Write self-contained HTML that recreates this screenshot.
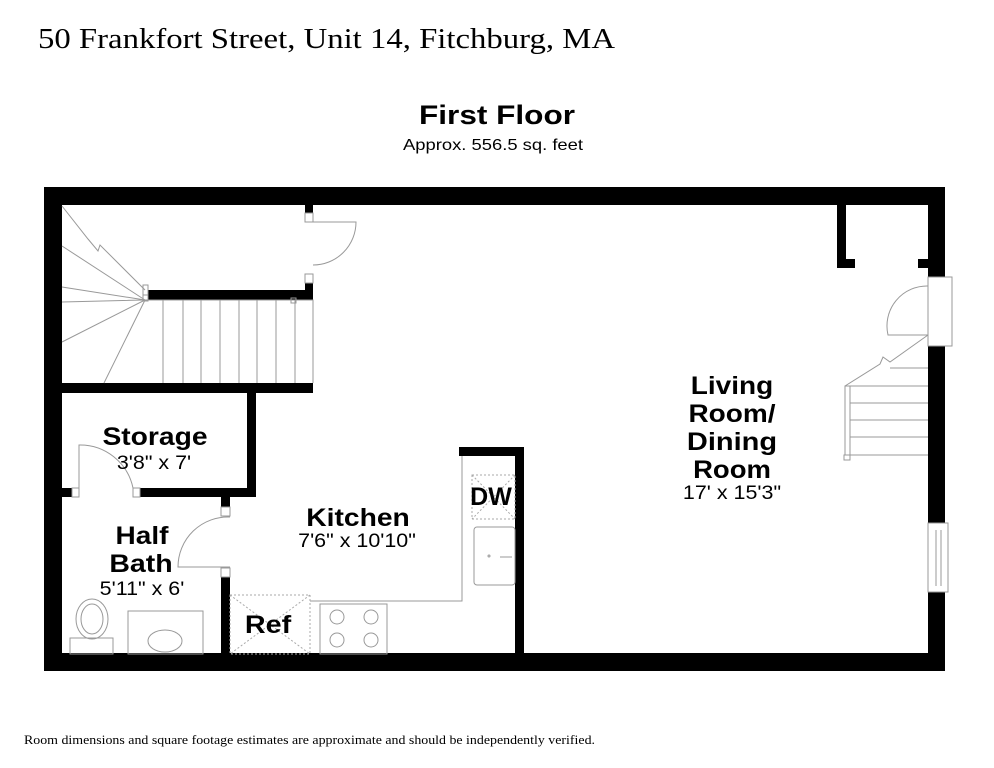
<!DOCTYPE html>
<html><head><style>
html,body{margin:0;padding:0;background:#fff;}
svg{display:block;}
.s{font-family:"Liberation Sans",sans-serif;}
.b{font-family:"Liberation Sans",sans-serif;font-weight:bold;}
</style></head><body>
<svg width="994" height="768" viewBox="0 0 994 768" xmlns="http://www.w3.org/2000/svg">
<rect width="994" height="768" fill="#fff"/>
<text x="38" y="48" font-family="Liberation Serif,serif" font-size="28" textLength="577" lengthAdjust="spacingAndGlyphs">50 Frankfort Street, Unit 14, Fitchburg, MA</text>
<text x="497" y="124" class="b" font-size="27" text-anchor="middle" textLength="156" lengthAdjust="spacingAndGlyphs">First Floor</text>
<text x="493" y="150" class="s" font-size="16" text-anchor="middle" textLength="180" lengthAdjust="spacingAndGlyphs">Approx. 556.5 sq. feet</text>

<g fill="#000">
<rect x="44" y="187" width="901" height="18"/>
<rect x="44" y="187" width="18" height="484"/>
<rect x="44" y="653" width="901" height="18"/>
<rect x="928" y="187" width="17" height="90"/>
<rect x="928" y="346" width="17" height="177"/>
<rect x="928" y="592" width="17" height="79"/>
<rect x="837" y="205" width="9" height="63"/>
<rect x="837" y="259" width="18" height="9"/>
<rect x="918" y="259" width="10" height="9"/>
<rect x="148" y="290" width="165" height="10"/>
<rect x="305" y="283" width="8" height="17"/>
<rect x="305" y="205" width="8" height="8"/>
<rect x="62" y="383" width="251" height="10"/>
<rect x="247" y="393" width="9" height="104"/>
<rect x="140" y="488" width="116" height="9"/>
<rect x="62" y="488" width="10" height="9"/>
<rect x="221" y="497" width="9" height="10"/>
<rect x="221" y="577" width="9" height="77"/>
<rect x="459" y="447" width="65" height="9"/>
<rect x="515" y="447" width="9" height="207"/>
</g>

<g fill="none" stroke="#999" stroke-width="1">
<rect x="305" y="213" width="8" height="9"/>
<rect x="305" y="274" width="8" height="9"/>
<rect x="72" y="488" width="7" height="9"/>
<rect x="133" y="488" width="7" height="9"/>
<rect x="221" y="507" width="9" height="9"/>
<rect x="221" y="568" width="9" height="9"/>
<path d="M313 222 H356 A43 43 0 0 1 313 265"/>
<path d="M79 488 V445 A54 54 0 0 1 133 488"/>
<path d="M230 567 H178 A50 50 0 0 1 230 517"/>
<path d="M928 335 H888 A40 40 0 0 1 928 286"/>
<rect x="928" y="277" width="24" height="69"/>
<rect x="928" y="523" width="20" height="69"/>
<line x1="936" y1="530" x2="936" y2="586"/><line x1="941" y1="530" x2="941" y2="586"/>
<path d="M145 300 H313 V383"/>
<path d="M163 300V383M183 300V383M201 300V383M220 300V383M239 300V383M257 300V383M276 300V383M295 300V383"/>
<rect x="143" y="285" width="5" height="10"/><rect x="143" y="295" width="5" height="6"/>
<rect x="291" y="298" width="5" height="5"/>
<path d="M145 300 L62 246 M145 300 L62 287 M145 300 L62 302 M145 300 L62 342 M145 300 L104 383"/>
<path d="M145 290 L100 245 L98 251 L88 239 L62 206"/>
<path d="M850 386 H928 M850 403 H928 M850 420 H928 M850 437 H928 M845 455 H928 M890 368 H928"/>
<rect x="845" y="386" width="5" height="69"/>
<rect x="844" y="455" width="6" height="5"/>
<path d="M845 386 L880 364 L883 357 L890 362 L928 335"/>
<path d="M462 456 V601 H310"/>
<rect x="474" y="527" width="41" height="58" rx="3"/>
<circle cx="489" cy="556" r="1"/><path d="M500 557 H512"/>
<rect x="320" y="604" width="67" height="50"/>
<circle cx="337" cy="617" r="7"/><circle cx="371" cy="617" r="7"/>
<circle cx="337" cy="640" r="7"/><circle cx="371" cy="640" r="7"/>
<ellipse cx="92" cy="619" rx="16" ry="20"/><ellipse cx="92" cy="619" rx="11" ry="15"/>
<rect x="70" y="638" width="43" height="16"/>
<rect x="128" y="611" width="75" height="43"/>
<ellipse cx="165" cy="641" rx="17" ry="11"/>
</g>
<g fill="none" stroke="#aaa" stroke-width="1" stroke-dasharray="2,2">
<rect x="230" y="595" width="80" height="59"/>
<path d="M230 595 L310 654 M310 595 L230 654"/>
<rect x="472" y="475" width="43" height="44"/>
<path d="M472 475 L515 519 M515 475 L472 519"/>
</g>

<g class="b" font-size="25" text-anchor="middle">
<text transform="translate(155 445) scale(1.13 1)">Storage</text>
<text transform="translate(358 526) scale(1.13 1)">Kitchen</text>
<text transform="translate(142 544) scale(1.12 1)">Half</text>
<text transform="translate(141 572) scale(1.14 1)">Bath</text>
<text transform="translate(268 633) scale(1.15 1)">Ref</text>
<text transform="translate(491 505) scale(1.0 1)">DW</text>
<text transform="translate(732 394) scale(1.12 1)">Living</text>
<text transform="translate(732 422) scale(1.12 1)">Room/</text>
<text transform="translate(732 450) scale(1.16 1)">Dining</text>
<text transform="translate(732 478) scale(1.1 1)">Room</text>
</g>
<g class="s" font-size="19" text-anchor="middle">
<text transform="translate(154 469) scale(1.13 1)">3'8" x 7'</text>
<text transform="translate(357 547) scale(1.13 1)">7'6" x 10'10"</text>
<text transform="translate(142 595) scale(1.13 1)">5'11" x 6'</text>
<text transform="translate(732 499) scale(1.13 1)">17' x 15'3"</text>
</g>
<text x="24" y="744" font-family="Liberation Serif,serif" font-size="12.5" textLength="571" lengthAdjust="spacingAndGlyphs">Room dimensions and square footage estimates are approximate and should be independently verified.</text>
</svg>
</body></html>
